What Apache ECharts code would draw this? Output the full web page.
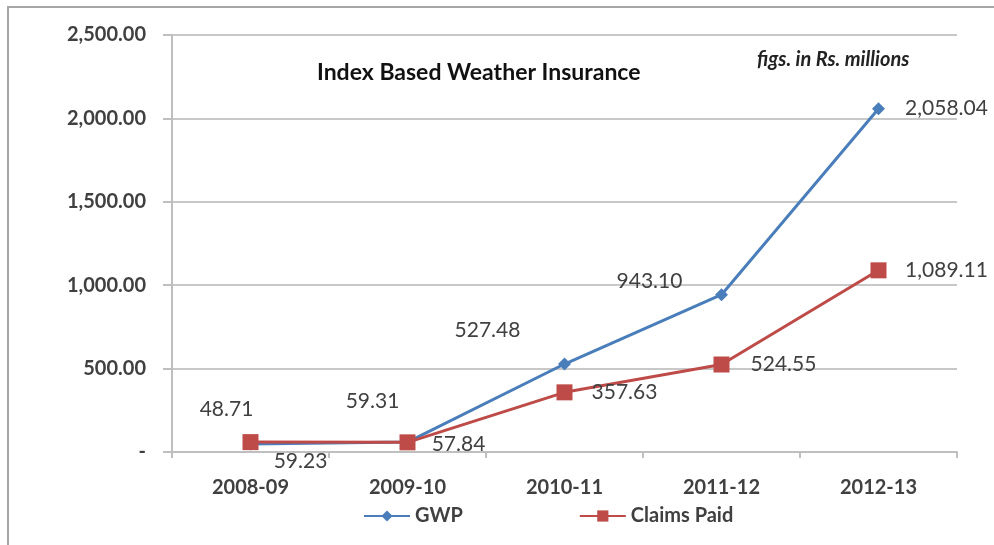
<!DOCTYPE html>
<html>
<head>
<meta charset="utf-8">
<script src="https://cdn.jsdelivr.net/npm/echarts@6/dist/echarts.min.js"></script>
<style>
  html, body { margin: 0; padding: 0; background: #fff; }
  #chart { width: 994px; height: 545px; }
</style>
</head>
<body>
<div id="chart"></div>
<script>
// data
var years = ['2008-09', '2009-10', '2010-11', '2011-12', '2012-13'];
var gwp = [48.71, 59.31, 527.48, 943.10, 2058.04];
var claims = [59.23, 57.84, 357.63, 524.55, 1089.11];

// label offsets (px from marker centre) to sit like the original
var gwpOffsets = [[-24, -35], [-35, -41], [-77, -34], [-72, -13], [68, 0]];
var claimsOffsets = [[50, 19], [51, 2], [60, 0], [62, 0], [68, 0]];

var FONT = 'Lato';
var TXT = '#404040';

function fmt(v) {
    if (v === 0) return '-';
    return v.toLocaleString('en-US', {minimumFractionDigits: 2, maximumFractionDigits: 2});
}

function pts(values, offsets) {
    return values.map(function (v, i) {
        return {
            value: v,
            label: { offset: offsets[i] }
        };
    });
}

var myChart = echarts.init(document.getElementById('chart'));
var option = {
    backgroundColor: '#fff',
    animation: false,
    textStyle: { fontFamily: FONT },
    title: [
        {
            text: 'Index Based Weather Insurance',
            left: 312, top: 56,
            textStyle: { fontFamily: FONT, fontWeight: 'bold', fontSize: 23, color: '#111' }
        },
        {
            text: 'figs. in Rs. millions',
            left: 752, top: 45,
            textStyle: { fontFamily: FONT, fontWeight: 'bold', fontStyle: 'italic', fontSize: 20, color: '#222' }
        }
    ],
    graphic: [
        {
            type: 'rect',
            shape: { x: 8, y: 7, width: 1100, height: 700 },
            style: { fill: 'none', stroke: '#a6a6a6', lineWidth: 2 },
            silent: true
        }
    ],
    legend: {
        top: 501,
        left: 358,
        itemGap: 116,
        itemWidth: 46,
        itemHeight: 14,
        textStyle: { fontFamily: FONT, fontSize: 20, fontWeight: 'bold', color: TXT },
        data: ['GWP', 'Claims Paid']
    },
    grid: { left: 172, right: 37, top: 35, bottom: 93, containLabel: false },
    xAxis: {
        type: 'category',
        data: years,
        boundaryGap: true,
        axisLine: { lineStyle: { color: '#bfbfbf', width: 2 } },
        axisTick: { show: true, length: 6, lineStyle: { color: '#bfbfbf', width: 2 } },
        axisLabel: { margin: 26, fontFamily: FONT, fontSize: 20, fontWeight: 'bold', color: TXT }
    },
    yAxis: {
        type: 'value',
        min: 0, max: 2500, interval: 500,
        axisLine: { show: true, lineStyle: { color: '#bfbfbf', width: 2 } },
        axisTick: { show: true, length: 9, lineStyle: { color: '#bfbfbf', width: 2 } },
        splitLine: { lineStyle: { color: '#c8c8c8', width: 2 } },
        axisLabel: {
            margin: 26, fontFamily: FONT, fontSize: 20, fontWeight: 'bold', color: TXT,
            formatter: fmt
        }
    },
    series: [
        {
            name: 'GWP',
            type: 'line',
            data: pts(gwp, gwpOffsets),
            symbol: 'diamond',
            symbolSize: 13,
            itemStyle: { color: '#4a7ebb' },
            lineStyle: { color: '#4a7ebb', width: 3 },
            label: {
                show: true, position: 'inside',
                fontFamily: FONT, fontSize: 21, color: TXT,
                formatter: function (p) { return fmt(p.value); }
            },
            z: 2
        },
        {
            name: 'Claims Paid',
            type: 'line',
            data: pts(claims, claimsOffsets),
            symbol: 'rect',
            symbolSize: 16,
            itemStyle: { color: '#be4b48' },
            lineStyle: { color: '#be4b48', width: 3 },
            label: {
                show: true, position: 'inside',
                fontFamily: FONT, fontSize: 21, color: TXT,
                formatter: function (p) { return fmt(p.value); }
            },
            z: 3
        }
    ]
};
myChart.setOption(option);
</script>
</body>
</html>
